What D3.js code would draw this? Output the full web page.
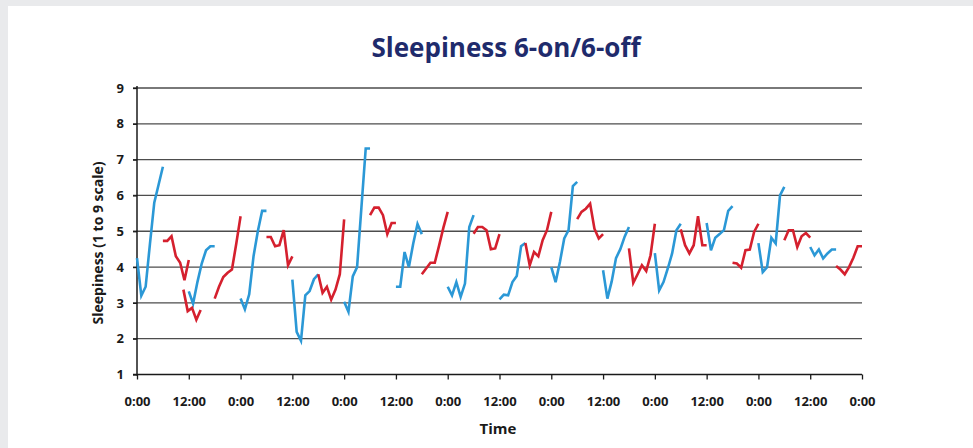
<!DOCTYPE html>
<html>
<head>
<meta charset="utf-8">
<script src="https://cdn.jsdelivr.net/npm/d3@7"></script>
<style>
  html, body { margin: 0; padding: 0; background: #e9eaec; }
  svg { display: block; }
  text { font-family: "Open Sans", "Noto Sans", sans-serif; font-weight: 700; }
</style>
</head>
<body>
<svg id="chart" width="973" height="448"></svg>
<script>
// ---- data (hours from start, sleepiness on 1..9 scale) ----
const yTicks = [1, 2, 3, 4, 5, 6, 7, 8, 9];
const xTickHours = d3.range(0, 169, 12);
const xTickLabels = xTickHours.map(h => (h % 24 === 0 ? "0:00" : "12:00"));

// blue segments: start hour, hourly values
const blueStarts = [0, 12, 24, 36, 48, 60, 72, 84, 96, 108, 120, 132, 144, 156];
const blueValues = [
  [4.25, 3.2, 3.45, 4.65, 5.8, 6.3, 6.8],
  [3.32, 2.98, 3.58, 4.1, 4.47, 4.58, 4.58],
  [3.12, 2.82, 3.24, 4.3, 5.0, 5.57, 5.57],
  [3.65, 2.19, 1.94, 3.21, 3.33, 3.66, 3.8],
  [3.03, 2.75, 3.74, 4.0, 5.66, 7.31, 7.31],
  [3.45, 3.45, 4.42, 4.0, 4.65, 5.2, 4.92],
  [3.45, 3.21, 3.58, 3.17, 3.54, 5.12, 5.45],
  [3.1, 3.23, 3.21, 3.58, 3.75, 4.58, 4.67],
  [4.0, 3.58, 4.14, 4.8, 5.03, 6.26, 6.38],
  [3.91, 3.12, 3.6, 4.25, 4.5, 4.85, 5.12],
  [4.39, 3.35, 3.58, 3.96, 4.38, 5.03, 5.21],
  [5.23, 4.47, 4.82, 4.92, 5.03, 5.57, 5.7],
  [4.67, 3.86, 4.0, 4.82, 4.66, 6.0, 6.24],
  [4.56, 4.33, 4.49, 4.24, 4.38, 4.49, 4.49]
];

// red segments: start hour, hourly values
const redStarts = [6, 10.75, 18, 30, 42, 54, 66, 78, 90, 102, 114, 126, 138, 150, 162];
const redValues = [
  [4.73, 4.73, 4.86, 4.3, 4.12, 3.63, 4.2],
  [3.37, 2.77, 2.86, 2.53, 2.8],
  [3.12, 3.45, 3.72, 3.84, 3.93, 4.65, 5.42],
  [4.84, 4.84, 4.58, 4.61, 5.03, 4.05, 4.3],
  [3.8, 3.28, 3.45, 3.09, 3.37, 3.8, 5.33],
  [5.45, 5.66, 5.66, 5.45, 4.92, 5.23, 5.23],
  [3.8, 3.96, 4.12, 4.12, 4.6, 5.1, 5.54],
  [4.93, 5.12, 5.12, 5.03, 4.5, 4.52, 4.92],
  [4.67, 4.05, 4.42, 4.3, 4.75, 5.03, 5.54],
  [5.34, 5.54, 5.63, 5.77, 5.07, 4.8, 4.92],
  [4.52, 3.56, 3.8, 4.05, 3.89, 4.33, 5.21],
  [5.05, 4.61, 4.38, 4.61, 5.42, 4.61, 4.61],
  [4.12, 4.1, 3.98, 4.47, 4.49, 4.98, 5.21],
  [4.75, 5.03, 5.03, 4.56, 4.86, 4.95, 4.82],
  [4.03, 3.93, 3.8, 4.0, 4.26, 4.58, 4.58]
];

// ---- drawing ----
const W = 973, H = 448;
const svg = d3.select("#chart");

svg.append("rect").attr("x", 8).attr("y", 6).attr("width", W - 8).attr("height", H - 6).attr("fill", "#ffffff");

const x = d3.scaleLinear().domain([0, 168]).range([137, 862]);
const y = d3.scaleLinear().domain([1, 9]).range([374.5, 88]);

// gridlines
svg.append("g")
  .selectAll("line")
  .data(yTicks.filter(t => t > 1))
  .join("line")
  .attr("x1", x(0) - 4).attr("x2", x(168))
  .attr("y1", d => y(d)).attr("y2", d => y(d))
  .attr("stroke", "#4d4d4d").attr("stroke-width", 1.3);

// y axis
const yAxis = svg.append("g")
  .attr("transform", `translate(${x(0)},0)`)
  .call(d3.axisLeft(y).tickValues(yTicks).tickSize(4).tickPadding(9).tickFormat(d3.format("d")));
yAxis.select(".domain").attr("stroke", "#1a1a1a").attr("stroke-width", 1.5)
  .attr("d", `M0,${y(9) - 2}V${y(1) + 1}`);
yAxis.selectAll(".tick line").attr("stroke", "#1a1a1a").attr("stroke-width", 1.3);
yAxis.selectAll(".tick text").attr("font-size", 13).attr("fill", "#1a1a1a")
  .attr("font-family", "'Open Sans', sans-serif").attr("font-weight", 700);

// x axis
const xAxis = svg.append("g")
  .attr("transform", `translate(0,${y(1)})`)
  .call(d3.axisBottom(x).tickValues(xTickHours).tickSize(5).tickPadding(17)
    .tickFormat((d, i) => xTickLabels[i]));
xAxis.select(".domain").attr("stroke", "#1a1a1a").attr("stroke-width", 1.5)
  .attr("d", `M${x(0) - 4},0H${x(168)}`);
xAxis.selectAll(".tick line").attr("stroke", "#1a1a1a").attr("stroke-width", 1.3);
xAxis.selectAll(".tick text").attr("font-size", 13).attr("fill", "#1a1a1a")
  .attr("font-family", "'Open Sans', sans-serif").attr("font-weight", 700);

// series
const line = d3.line().x(d => x(d[0])).y(d => y(d[1])).curve(d3.curveLinear);
function segs(starts, values) {
  return starts.map((s, i) => values[i].map((v, j) => [s + j, v]));
}
svg.append("g").selectAll("path")
  .data(segs(blueStarts, blueValues))
  .join("path")
  .attr("d", line).attr("fill", "none")
  .attr("stroke", "#2b98d6").attr("stroke-width", 2.6);
svg.append("g").selectAll("path")
  .data(segs(redStarts, redValues))
  .join("path")
  .attr("d", line).attr("fill", "none")
  .attr("stroke", "#d5202e").attr("stroke-width", 2.6);

// titles
svg.append("text").attr("x", 506).attr("y", 57).attr("text-anchor", "middle")
  .attr("font-size", 26).attr("fill", "#1f2b6c").text("Sleepiness 6-on/6-off");
svg.append("text").attr("x", 498).attr("y", 434).attr("text-anchor", "middle")
  .attr("font-size", 15).attr("fill", "#1a1a1a").text("Time");
svg.append("text").attr("transform", "translate(103,243) rotate(-90)").attr("text-anchor", "middle")
  .attr("font-size", 14).attr("fill", "#1a1a1a").text("Sleepiness (1 to 9 scale)");
</script>
</body>
</html>
